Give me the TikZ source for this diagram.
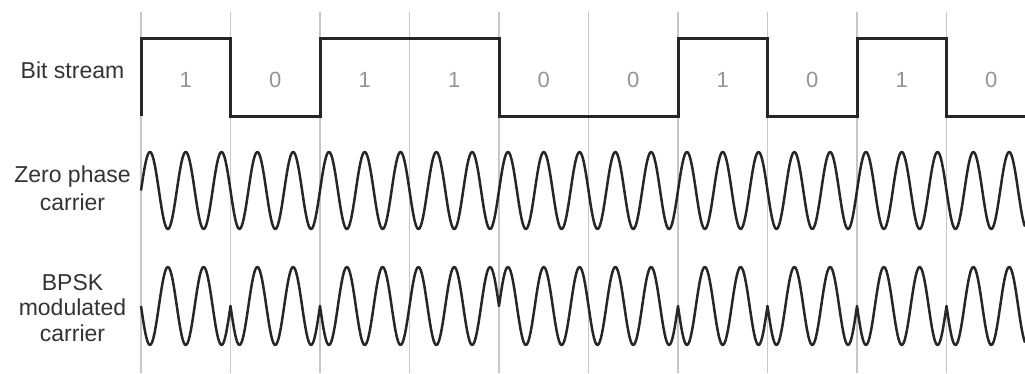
\documentclass[tikz,border=0pt]{standalone}
\usepackage{fontspec}
\setmainfont{Liberation Sans}
\begin{document}
\begin{tikzpicture}[x=1pt,y=-1pt,
  gridline/.style={draw=black!22, line width=1.3pt},
  bitline/.style={draw=black!85, line width=3pt, line join=miter},
  wave/.style={draw=black!85, line width=2.5pt, line join=round},
  lbl/.style={font=\fontsize{23}{27}\selectfont, text=black!80, align=center, inner sep=0pt},
  bitlbl/.style={font=\fontsize{22}{24}\selectfont, text=black!42, inner sep=0pt, anchor=base}]
\useasboundingbox (0,0) rectangle (1025,373);
% grid lines
\foreach \k in {0,...,9}
  \draw[gridline] ({141+89.5*\k},12) -- ({141+89.5*\k},373);
% bit stream
\draw[bitline] (141,116) -- (141,38) -- (230.5,38) -- (230.5,116) -- (320,116) -- (320,38)
  -- (499,38) -- (499,116) -- (678,116) -- (678,38) -- (767.5,38) -- (767.5,116)
  -- (857,116) -- (857,38) -- (946.5,38) -- (946.5,116) -- (1025,116);
% bit labels
\foreach \k/\b in {0/1,1/0,2/1,3/1,4/0,5/0,6/1,7/0,8/1,9/0}
  \node[bitlbl] (b\k) at ({185.75+89.5*\k},87) {\b};
% zero phase carrier
\draw[wave] plot[domain=141:1025, samples=1000] (\x, {190.5-38.5*sin(10.055866*(\x-141))});
% BPSK carrier
\draw[wave] (141,306)
  \foreach \a/\b/\s in {141/230.5/1, 230.5/320/-1, 320/409.5/1, 409.5/499/1, 499/588.5/-1,
                        588.5/678/-1, 678/767.5/1, 767.5/857/-1, 857/946.5/1, 946.5/1025/-1}
  { -- plot[domain=\a:\b, samples=80] (\x, {306+\s*39*sin(10.055866*(\x-141))}) };
% labels
\node[lbl, anchor=base] (lbs) at (72.5,78) {Bit stream};
\node[lbl, anchor=base, font=\fontsize{23}{28}\selectfont] (lzc) at (72.5,210) {Zero phase\\carrier};
\node[lbl, anchor=base, font=\fontsize{23}{25.5}\selectfont] (lbp) at (72.5,341) {BPSK\\modulated\\carrier};
\end{tikzpicture}
\end{document}
